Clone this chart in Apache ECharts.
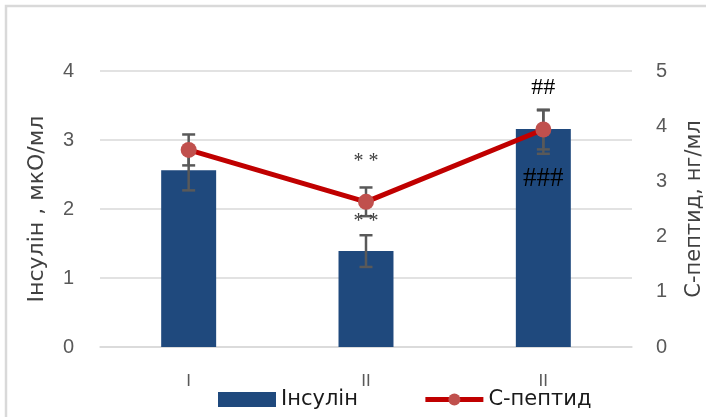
<!DOCTYPE html>
<html><head><meta charset="utf-8">
<script src="https://cdn.jsdelivr.net/npm/echarts@6/dist/echarts.min.js"></script>
<style>html,body{margin:0;padding:0;background:#fff}#c{width:706px;height:417px}</style>
</head><body><div id="c"></div>
<script>
const categories = ['I', 'II', 'II'];
const insulin = [2.56, 1.39, 3.16];
const insulinErrMinus = [0.29, 0.23, 0.36];
const insulinErrPlus = [0.29, 0.23, 0.27];
const cpeptide = [3.57, 2.63, 3.94];
const cpeptideErr = [0.28, 0.26, 0.36];
const leftMax = 4, rightMax = 5;
const noteText = ['* *', '* *', '##', '###'];
const noteCat = [1, 1, 2, 2];
const noteAt = [2.68, 1.81, 3.76, 2.43];

const FONT = '"Liberation Sans", Arial, sans-serif';
const NFONT = '"DejaVu Sans", sans-serif';
const ERR = '#595959';

function errRender(params, api) {
  const i = api.value(0);
  const top = api.coord([i, api.value(2)]);
  const bot = api.coord([i, api.value(1)]);
  const w = 6.5;
  const st = { stroke: ERR, lineWidth: 2.5, fill: null };
  return { type: 'group', children: [
    { type: 'line', shape: { x1: top[0], y1: top[1], x2: bot[0], y2: bot[1] }, style: st },
    { type: 'line', shape: { x1: top[0] - w, y1: top[1], x2: top[0] + w, y2: top[1] }, style: st },
    { type: 'line', shape: { x1: bot[0] - w, y1: bot[1], x2: bot[0] + w, y2: bot[1] }, style: st }
  ]};
}

const chart = echarts.init(document.getElementById('c'), null, { renderer: 'canvas' });
chart.setOption({
  animation: false,
  backgroundColor: '#fff',
  graphic: [{ type: 'rect', shape: { x: 6, y: 6, width: 900, height: 900 }, style: { fill: 'none', stroke: '#d9d9d9', lineWidth: 2.5 }, z: -10 }],
  grid: { left: 100, right: 74, top: 71, bottom: 70, containLabel: false, outerBoundsMode: 'none' },
  legend: {
    data: [{ name: 'Інсулін', icon: 'rect' }, { name: 'С-пептид' }],
    left: 213, top: 384,
    itemWidth: 58, itemHeight: 15, itemGap: 65,
    lineStyle: { width: 5 },
    textStyle: { fontFamily: NFONT, fontSize: 21, color: '#1a1a1a' }
  },
  xAxis: {
    type: 'category', data: categories,
    axisLine: { lineStyle: { color: '#d9d9d9', width: 1.5 } },
    axisTick: { show: false },
    axisLabel: { fontFamily: FONT, fontSize: 17, color: '#595959', margin: 26 }
  },
  yAxis: [{
    type: 'value', min: 0, max: leftMax, interval: 1,
    name: 'Інсулін , мкО/мл', nameLocation: 'middle', nameGap: 52, nameRotate: 90,
    nameTextStyle: { fontFamily: NFONT, fontSize: 22, color: '#404040' },
    axisLabel: { fontFamily: FONT, fontSize: 20, color: '#595959', margin: 26 },
    splitLine: { lineStyle: { color: '#d9d9d9', width: 1.5 } },
    axisLine: { show: false }, axisTick: { show: false }
  }, {
    type: 'value', min: 0, max: rightMax, interval: 1, position: 'right',
    name: 'С-пептид, нг/мл', nameLocation: 'middle', nameGap: 52, nameRotate: 90,
    nameTextStyle: { fontFamily: NFONT, fontSize: 21, color: '#404040' },
    axisLabel: { fontFamily: FONT, fontSize: 20, color: '#595959', margin: 24 },
    splitLine: { show: false },
    axisLine: { show: false }, axisTick: { show: false }
  }],
  series: [{
    name: 'Інсулін', type: 'bar', data: insulin, barWidth: '31%',
    itemStyle: { color: '#1f497d' }, z: 2
  }, {
    name: 'insErr', type: 'custom', renderItem: errRender, z: 3,
    data: insulin.map((v, i) => [i, v - insulinErrMinus[i], v + insulinErrPlus[i]])
  }, {
    name: 'cErr', type: 'custom', renderItem: errRender, yAxisIndex: 1, z: 4,
    data: cpeptide.map((v, i) => [i, v - cpeptideErr[i], v + cpeptideErr[i]])
  }, {
    name: 'С-пептид', type: 'line', yAxisIndex: 1, data: cpeptide, z: 5,
    symbol: 'circle', symbolSize: 16,
    lineStyle: { color: '#c00000', width: 5 },
    itemStyle: { color: '#c0504d' }
  }, {
    name: 'notes', type: 'custom', z: 6,
    data: noteText.map((t, k) => [noteCat[k], noteAt[k]]),
    renderItem: function (params, api) {
      const p = api.coord([api.value(0), api.value(1)]);
      const t = noteText[params.dataIndex];
      const hash = t.indexOf('#') >= 0;
      return { type: 'text', style: {
        text: t, x: p[0], y: p[1], align: 'center', verticalAlign: 'middle',
        textAlign: 'center', textVerticalAlign: 'middle',
        font: hash ? (t.length > 2 ? '27px' : '24px') + ' "Liberation Serif", serif' : '20px "Liberation Serif", serif',
        fill: hash ? '#000' : '#404040'
      }};
    }
  }]
});
</script></body></html>
